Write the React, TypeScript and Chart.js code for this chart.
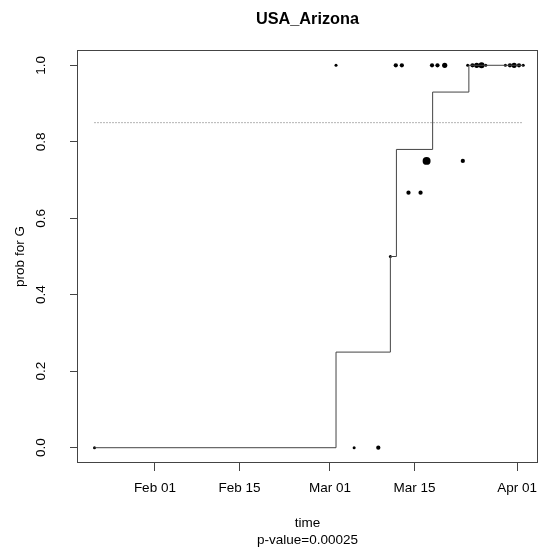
import React, { useEffect, useRef } from "react";
import { Chart, registerables } from "chart.js";

Chart.register(...registerables);

// Days counted from 2020-01-01 (Jan 01 = 0)
const xTickDays = [31, 45, 60, 74, 91];
const xTickLabels = ["Feb 01", "Feb 15", "Mar 01", "Mar 15", "Apr 01"];
const yTickValues = [0, 0.2, 0.4, 0.6, 0.8, 1.0];
const yTickLabels = ["0.0", "0.2", "0.4", "0.6", "0.8", "1.0"];

// fitted step curve
const stepDays = [21, 61, 70, 71, 77, 83, 92];
const stepProbs = [0, 0.25, 0.5, 0.78, 0.93, 1, 1];

// threshold line
const thresholdDays = [21, 92];
const thresholdProb = 0.85;

// observed daily proportions and sample counts
const obsDays = [
  21, 64, 68, 70, 73, 75, 76, 82,
  61, 70.9, 71.9, 76.9, 77.8, 79, 82.8, 83.6, 84.3, 85.1, 85.8, 89.05, 89.8, 90.5, 91.3, 92.0,
];
const obsProbs = [
  0, 0, 0, 0.5, 0.667, 0.667, 0.75, 0.75,
  1, 1, 1, 1, 1, 1, 1, 1, 1, 1, 1, 1, 1, 1, 1, 1,
];
const obsCounts = [
  1, 1, 2, 1, 2, 2, 7, 2,
  1, 2, 2, 2, 2, 3, 1, 2, 3, 4, 1, 1, 2, 3, 2, 1,
];

const FONT = "'Liberation Sans', Arial, Helvetica, sans-serif";

const boxPlugin = {
  id: "rbox",
  afterDatasetsDraw(chart: any) {
    const { ctx, chartArea } = chart;
    const l = Math.round(chartArea.left) + 0.5;
    const t = Math.round(chartArea.top) + 0.5;
    const r = Math.round(chartArea.right) - 0.5;
    const b = Math.round(chartArea.bottom) - 0.5;
    ctx.save();
    ctx.strokeStyle = "#444";
    ctx.lineWidth = 1;
    ctx.strokeRect(l, t, r - l, b - t);
    ctx.restore();
  },
};

export default function App() {
  const ref = useRef<HTMLCanvasElement | null>(null);

  useEffect(() => {
    document.body.style.margin = "0";
    if (!ref.current) return;
    Chart.defaults.font.family = FONT;
    const chart = new Chart(ref.current, {
      type: "line",
      data: {
        datasets: [
          {
            label: "fit",
            data: stepDays.map((d, i) => ({ x: d, y: stepProbs[i] })),
            stepped: "before",
            borderColor: "#444",
            borderWidth: 1,
            pointRadius: 0,
            fill: false,
          },
          {
            label: "threshold",
            data: thresholdDays.map((d) => ({ x: d, y: thresholdProb })),
            borderColor: "#666",
            borderWidth: 1,
            borderDash: [1, 2],
            pointRadius: 0,
            fill: false,
          },
          {
            label: "obs",
            data: obsDays.map((d, i) => ({ x: d, y: obsProbs[i] })),
            showLine: false,
            pointRadius: obsCounts.map((c) => Math.sqrt(c) * 1.5),
            pointBackgroundColor: "#000",
            pointBorderWidth: 0,
            backgroundColor: "#000",
            borderColor: "#000",
          },
        ],
      } as any,
      options: {
        responsive: false,
        animation: false,
        events: [],
        layout: { autoPadding: false, padding: { left: 7.4, right: 1, top: 0, bottom: 0.45 } },
        plugins: {
          legend: { display: false },
          tooltip: { enabled: false },
          title: {
            display: true,
            fullSize: false,
            text: "USA_Arizona",
            color: "#000",
            font: { size: 16.3, weight: "bold", family: FONT },
            padding: { top: 10.2, bottom: 20.24 },
          },
        },
        scales: {
          x: {
            type: "linear",
            min: 18.1,
            max: 94.45,
            afterBuildTicks: (scale: any) => {
              scale.ticks = xTickDays.map((v) => ({ value: v }));
            },
            afterFit: (scale: any) => {
              scale.height = 88.55;
              scale.paddingLeft = 0;
              scale.paddingRight = 0;
              scale.paddingTop = 0;
              scale.paddingBottom = 0;
            },
            ticks: {
              color: "#000",
              padding: 0,
              autoSkip: false,
              maxRotation: 0,
              font: { size: 13.5, family: FONT, lineHeight: "34px" },
              callback: (_v: any, i: number) => xTickLabels[i],
            },
            grid: {
              display: true,
              drawOnChartArea: false,
              drawTicks: true,
              tickLength: 8,
              color: "#444",
            },
            border: { display: false },
            title: {
              display: true,
              text: ["time", "p-value=0.00025"],
              color: "#000",
              font: { size: 13.5, family: FONT, lineHeight: "17.7px" },
              padding: { top: 9.15, bottom: 2 },
            },
          },
          y: {
            type: "linear",
            min: -0.04,
            max: 1.04,
            afterBuildTicks: (scale: any) => {
              scale.ticks = yTickValues.map((v) => ({ value: v }));
            },
            afterFit: (scale: any) => {
              scale.width = 69.6;
              scale.paddingLeft = 0;
              scale.paddingRight = 0;
              scale.paddingTop = 0;
              scale.paddingBottom = 0;
            },
            ticks: {
              color: "#000",
              padding: 19.6,
              autoSkip: false,
              minRotation: 90,
              maxRotation: 90,
              crossAlign: "center",
              font: { size: 13.5, family: FONT },
              callback: (_v: any, i: number) => yTickLabels[i],
            },
            grid: {
              display: true,
              drawOnChartArea: false,
              drawTicks: true,
              tickLength: 7,
              color: "#444",
            },
            border: { display: false },
            title: {
              display: true,
              text: "prob for G",
              color: "#000",
              font: { size: 13.5, family: FONT },
              padding: { top: 4.5, bottom: 3.5 },
            },
          },
        },
      } as any,
      plugins: [boxPlugin],
    });
    return () => chart.destroy();
  }, []);

  return (
    <div style={{ width: 539, height: 552, background: "#fff" }}>
      <canvas ref={ref} width={539} height={552} style={{ display: "block" }} />
    </div>
  );
}
